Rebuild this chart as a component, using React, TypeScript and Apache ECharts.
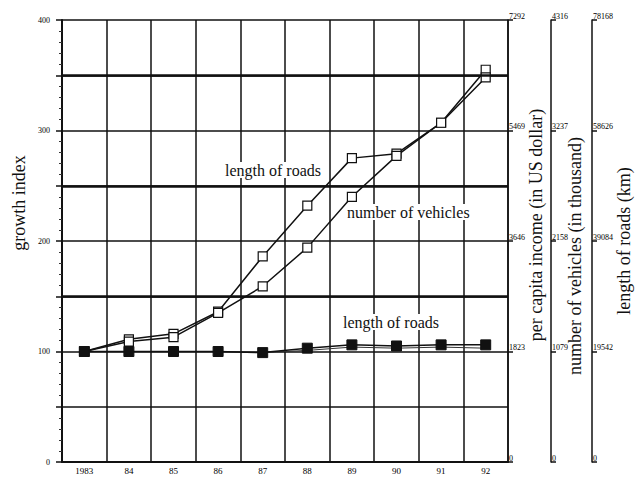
import React, { useEffect, useRef } from "react";
import * as echarts from "echarts";

const years = ["1983", "84", "85", "86", "87", "88", "89", "90", "91", "92"];
const upperSeries = [100, 111, 116, 136, 186, 232, 275, 279, 307, 355];
const vehiclesSeries = [100, 109, 113, 135, 159, 194, 240, 277, 307, 348];
const flatSeries = [100, 100, 100, 100, 99, 103, 106, 105, 106, 106];
const flatThinSeries = [100, 100, 100, 100, 99, 101, 104, 103, 104, 103];
const thickGridValues = [150, 250, 350];

const incomeTicks = ["0", "1823", "3646", "5469", "7292"];
const vehicleTicks = ["0", "1079", "2158", "3237", "4316"];
const roadTicks = ["0", "19542", "39084", "58626", "78168"];

const annotations = [
  { text: "length of roads", x: 225, y: 170 },
  { text: "number of vehicles", x: 347, y: 212 },
  { text: "length of roads", x: 343, y: 322 },
];

const SERIF = "'Liberation Serif', 'Times New Roman', serif";

function rightAxis(ticks: string[], offset: number, name: string, nameGap: number, padding: number[]) {
  return {
    type: "value",
    position: "right",
    offset,
    min: 0,
    max: 400,
    interval: 100,
    name,
    nameLocation: "middle",
    nameRotate: 90,
    nameGap,
    nameMoveOverlap: false,
    nameTextStyle: { fontFamily: SERIF, fontSize: 18, color: "#111", padding, lineHeight: 18 },
    axisLine: { show: true, lineStyle: { color: "#111", width: 1.5 } },
    axisTick: { show: true, inside: false, length: 5, lineStyle: { color: "#111", width: 1.5 } },
    axisLabel: {
      show: true,
      margin: 1,
      verticalAlign: "bottom",
      align: "left",
      fontFamily: SERIF,
      fontSize: 8,
      color: "#000",
      formatter: (v: number) => ticks[Math.round(v / 100)] ?? "",
    },
    splitLine: { show: false },
  };
}

export default function App() {
  const ref = useRef<HTMLDivElement>(null);
  useEffect(() => {
    if (!ref.current) return;
    const chart = echarts.init(ref.current, undefined, { renderer: "svg" });
    const lineStyle = { color: "#111", width: 1.5 };
    chart.setOption({
      animation: false,
      backgroundColor: "#fff",
      textStyle: { color: "#111" },
      grid: { left: 62, right: 129, top: 20, bottom: 15, outerBoundsMode: "none", containLabel: false },
      xAxis: {
        type: "category",
        data: years,
        boundaryGap: true,
        axisLine: { show: true, lineStyle: { color: "#111", width: 2 } },
        axisTick: { show: false },
        axisLabel: { fontFamily: SERIF, fontSize: 9, color: "#000", margin: 4 },
        splitLine: { show: true, interval: 0, lineStyle: { color: "#111", width: 1.5 } },
      },
      yAxis: [
        {
          type: "value",
          min: 0,
          max: 400,
          interval: 50,
          name: "growth index",
          nameLocation: "middle",
          nameRotate: 90,
          nameGap: 34,
          nameMoveOverlap: false,
          nameTextStyle: { fontFamily: SERIF, fontSize: 18, color: "#111", lineHeight: 18, padding: [0, 0, 0, 76] },
          axisLine: { show: true, lineStyle: { color: "#111", width: 2 } },
          axisTick: { show: true, length: 6, lineStyle: { color: "#111", width: 1.5 } },
          minorTick: { show: true, splitNumber: 5, length: 3, lineStyle: { color: "#333", width: 1 } },
          axisLabel: {
            fontFamily: SERIF,
            fontSize: 8,
            color: "#000",
            margin: 12,
            formatter: (v: number) => (v % 100 === 0 ? String(v) : ""),
          },
          splitLine: { show: true, lineStyle: { color: "#111", width: 1.5 } },
        },
        rightAxis(incomeTicks, 0, "per capita income (in US dollar)", 19, [0, 0, 0, 32]),
        rightAxis(vehicleTicks, 43, "number of vehicles (in thousand)", 15, [0, 30, 0, 0]),
        rightAxis(roadTicks, 84, "length of roads (km)", 23, [0, 0, 0, 0]),
      ],
      series: [
        {
          name: "length of roads (upper)",
          type: "line",
          data: upperSeries,
          symbol: "rect",
          symbolSize: 9,
          lineStyle,
          itemStyle: { color: "#fff", borderColor: "#111", borderWidth: 1.2 },
          z: 4,
        },
        {
          name: "number of vehicles",
          type: "line",
          data: vehiclesSeries,
          symbol: "rect",
          symbolSize: 9,
          lineStyle,
          itemStyle: { color: "#fff", borderColor: "#111", borderWidth: 1.2 },
          z: 4,
        },
        {
          name: "length of roads (thin)",
          type: "line",
          data: flatThinSeries,
          symbol: "none",
          lineStyle: { color: "#333", width: 1 },
          z: 3,
        },
        {
          name: "length of roads",
          type: "line",
          data: flatSeries,
          symbol: "rect",
          symbolSize: 10,
          lineStyle,
          itemStyle: { color: "#111", borderColor: "#111" },
          z: 6,
          markLine: {
            silent: true,
            symbol: "none",
            label: { show: false },
            lineStyle: { color: "#111", width: 2.5, type: "solid" },
            data: thickGridValues.map((v) => ({ yAxis: v })),
          },
        },
      ],
      graphic: annotations.map((a) => ({
        type: "text",
        x: a.x,
        y: a.y,
        z: 10,
        style: {
          text: a.text,
          fontFamily: SERIF,
          fontSize: 16,
          fill: "#111",
          verticalAlign: "middle",
          backgroundColor: "#fff",
        },
      })),
    });
    return () => chart.dispose();
  }, []);
  return (
    <div
      ref={ref}
      style={{ position: "fixed", left: 0, top: 0, width: 637, height: 477 }}
    />
  );
}
